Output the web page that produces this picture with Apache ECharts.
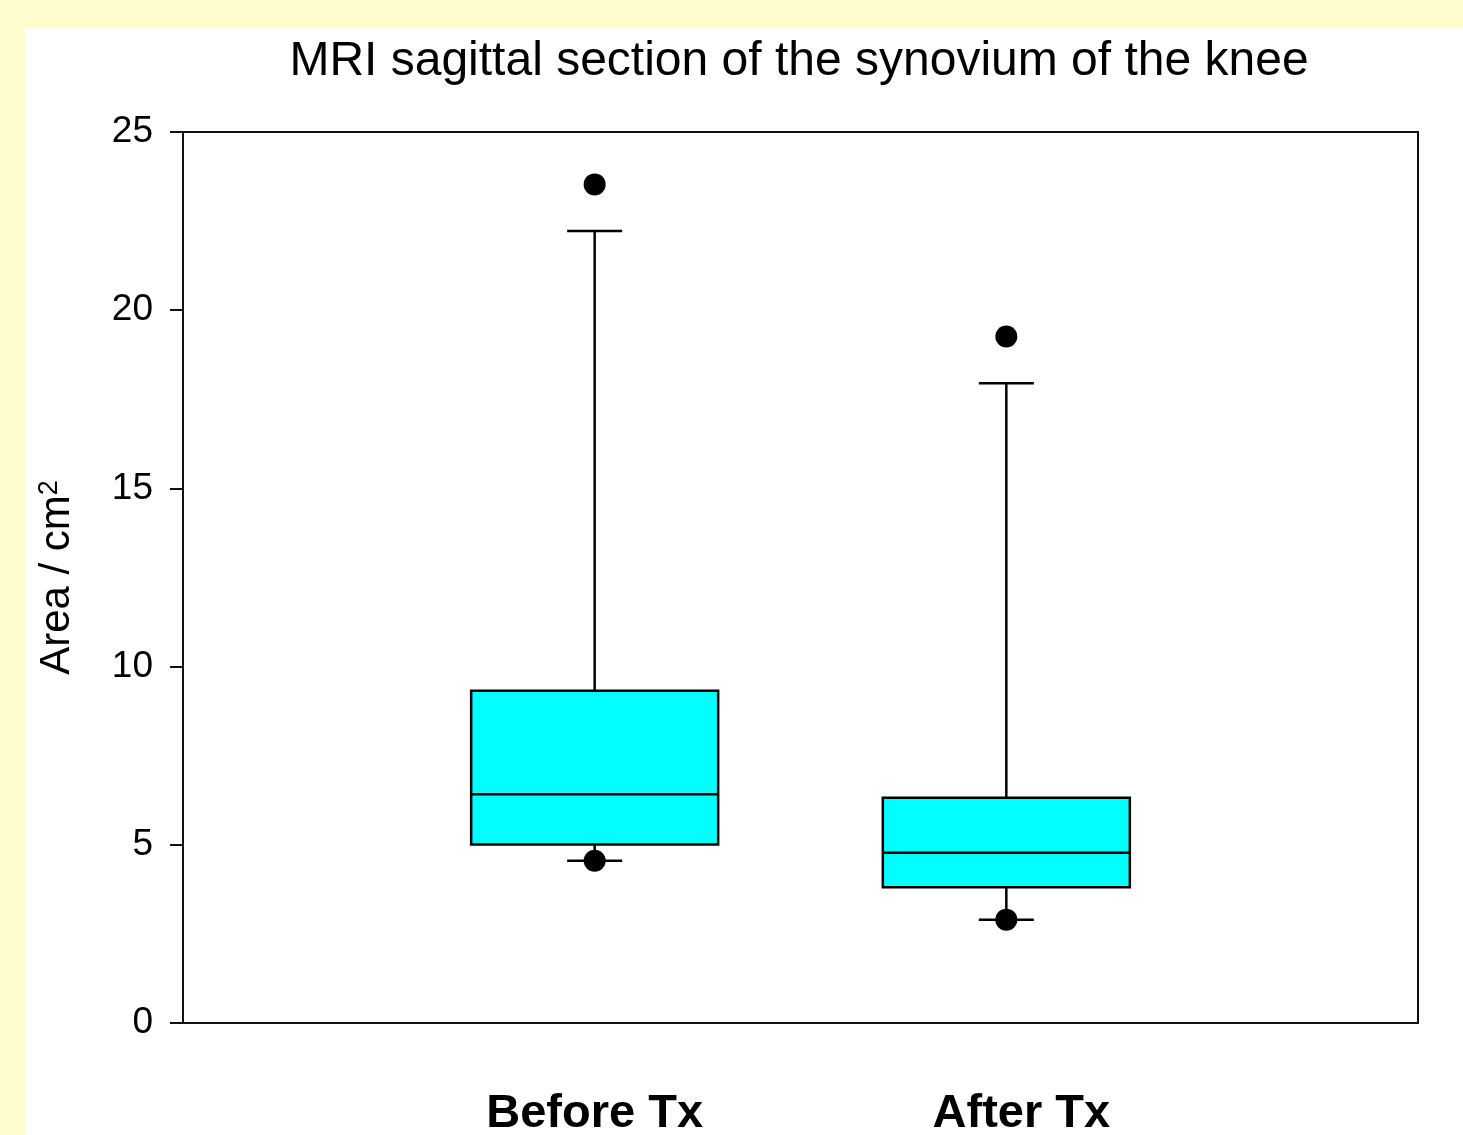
<!DOCTYPE html>
<html>
<head>
<meta charset="utf-8">
<script src="https://cdn.jsdelivr.net/npm/echarts@6/dist/echarts.min.js"></script>
<style>
html,body{margin:0;padding:0;background:#FFFDD0;width:1463px;height:1135px;overflow:hidden;}
#chart{position:absolute;left:25px;top:28px;width:1438px;height:1107px;background:#ffffff;}
</style>
</head>
<body>
<div id="chart"></div>
<script>
var categories = ['Before Tx', 'After Tx'];
var whiskerLow = [4.55, 2.90];
var q1 = [5.01, 3.81];
var median = [6.42, 4.78];
var q3 = [9.32, 6.32];
var whiskerHigh = [22.22, 17.95];
var outliersBefore = [23.53, 4.55];
var outliersAfter = [19.26, 2.90];
var yTicks = [0, 5, 10, 15, 20, 25];

var boxData = categories.map(function (c, i) {
  return [i + 1, whiskerLow[i], q1[i], median[i], q3[i], whiskerHigh[i]];
});
var outlierData = [];
[outliersBefore, outliersAfter].forEach(function (arr, i) {
  arr.forEach(function (v) { outlierData.push([i + 1, v]); });
});

var FONT = '"Liberation Sans", Arial, sans-serif';
var chart = echarts.init(document.getElementById('chart'));
chart.setOption({
  animation: false,
  title: {
    text: 'MRI sagittal section of the synovium of the knee',
    left: 774, top: 10, padding: 0, textAlign: 'center',
    textStyle: { fontFamily: FONT, fontSize: 48, fontWeight: 'normal', color: '#000' }
  },
  grid: {
    left: 158, right: 45, top: 104, bottom: 112,
    outerBoundsMode: 'none', containLabel: false,
    show: true, borderColor: '#111', borderWidth: 2, backgroundColor: 'transparent'
  },
  xAxis: {
    type: 'value', min: 0, max: 3, interval: 1,
    splitLine: { show: false },
    axisTick: { show: false },
    axisLine: { show: true, lineStyle: { color: '#111', width: 2 } },
    axisLabel: {
      margin: 68,
      fontFamily: FONT, fontSize: 47, fontWeight: 'bold', color: '#000',
      formatter: function (v) {
        if (v === 1) return '{a|' + categories[0] + '}';
        if (v === 2) return '{b|' + categories[1] + '}';
        return '';
      },
      rich: {
        a: { fontFamily: FONT, fontSize: 47, fontWeight: 'bold', color: '#000' },
        b: { fontFamily: FONT, fontSize: 47, fontWeight: 'bold', color: '#000', padding: [0, 0, 0, 30] }
      }
    }
  },
  yAxis: {
    type: 'value', min: yTicks[0], max: yTicks[yTicks.length - 1], interval: 5,
    name: 'Area / cm{sup|2}', nameLocation: 'middle', nameGap: 104,
    nameTextStyle: {
      fontFamily: FONT, fontSize: 42, color: '#000',
      rich: { sup: { fontFamily: FONT, fontSize: 27, color: '#000', verticalAlign: 'top', padding: [0, 0, 16, 0] } }
    },
    splitLine: { show: false },
    axisLine: { show: true, lineStyle: { color: '#111', width: 2 } },
    axisTick: { show: true, inside: false, length: 13, lineStyle: { color: '#111', width: 2 } },
    axisLabel: { margin: 30, fontFamily: FONT, fontSize: 37, color: '#000' }
  },
  series: [{
    type: 'custom',
    data: boxData,
    z: 2,
    renderItem: function (params, api) {
      var x = api.value(0);
      var halfBox = api.size([0.3, 0])[0];
      var halfCap = 27.5;
      var pLow = api.coord([x, api.value(1)]);
      var pQ1 = api.coord([x, api.value(2)]);
      var pMed = api.coord([x, api.value(3)]);
      var pQ3 = api.coord([x, api.value(4)]);
      var pHigh = api.coord([x, api.value(5)]);
      var ls = { stroke: '#000', lineWidth: 2.5 };
      return {
        type: 'group',
        children: [
          { type: 'line', shape: { x1: pQ3[0], y1: pQ3[1], x2: pHigh[0], y2: pHigh[1] }, style: ls },
          { type: 'line', shape: { x1: pLow[0], y1: pLow[1], x2: pQ1[0], y2: pQ1[1] }, style: ls },
          { type: 'line', shape: { x1: pHigh[0] - halfCap, y1: pHigh[1], x2: pHigh[0] + halfCap, y2: pHigh[1] }, style: ls },
          { type: 'line', shape: { x1: pLow[0] - halfCap, y1: pLow[1], x2: pLow[0] + halfCap, y2: pLow[1] }, style: ls },
          { type: 'rect', shape: { x: pQ3[0] - halfBox, y: pQ3[1], width: halfBox * 2, height: pQ1[1] - pQ3[1] },
            style: { fill: '#00FFFF', stroke: '#000', lineWidth: 2.5 } },
          { type: 'line', shape: { x1: pMed[0] - halfBox, y1: pMed[1], x2: pMed[0] + halfBox, y2: pMed[1] }, style: ls }
        ]
      };
    }
  }, {
    type: 'scatter',
    data: outlierData,
    symbol: 'circle',
    symbolSize: 22,
    z: 3,
    itemStyle: { color: '#000', opacity: 1 }
  }]
});
</script>
</body>
</html>
